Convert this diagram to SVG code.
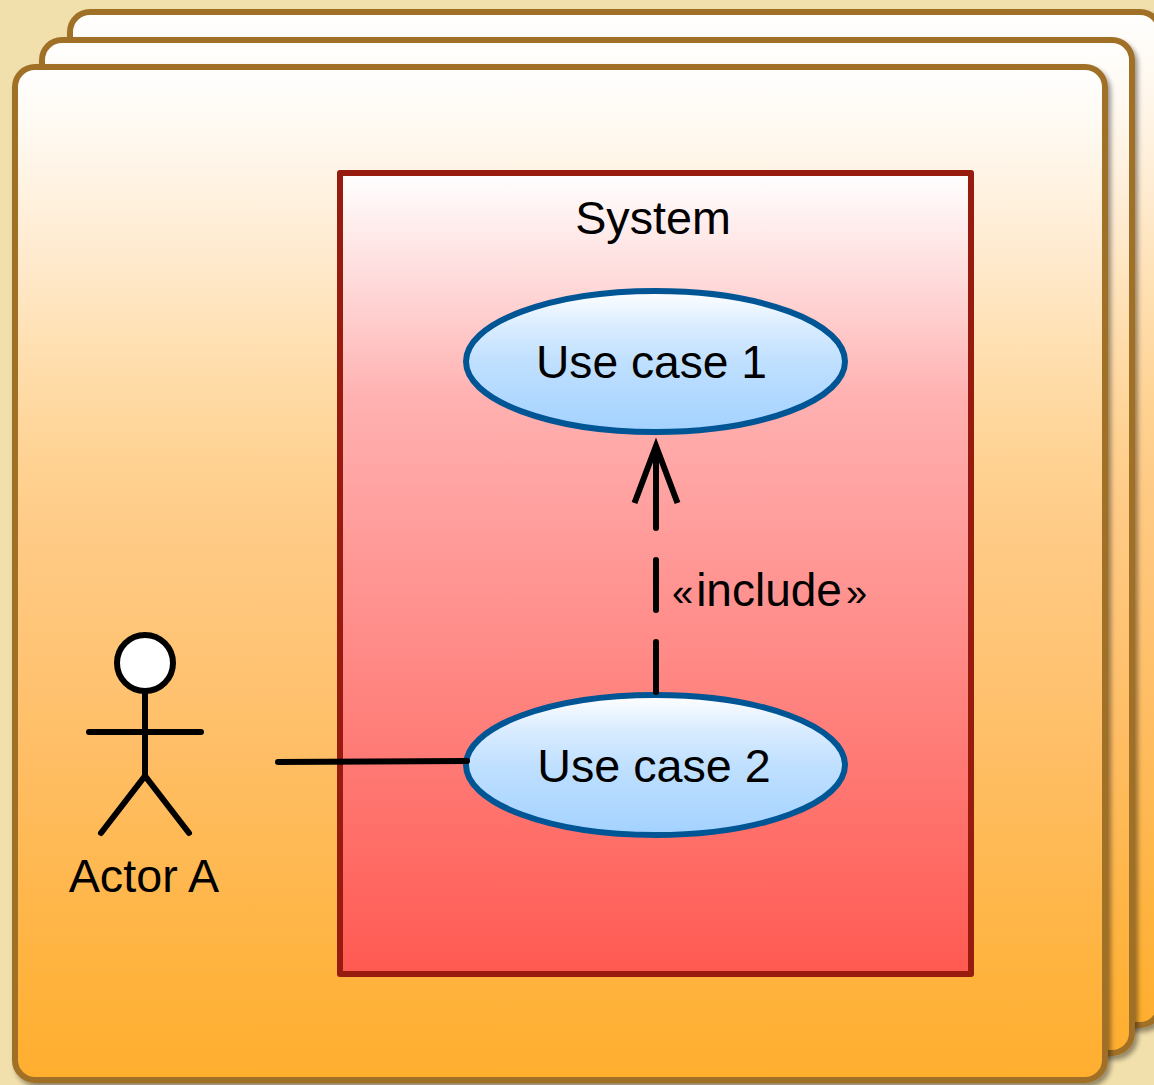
<svg xmlns="http://www.w3.org/2000/svg" width="1154" height="1085" viewBox="0 0 1154 1085">
<defs>
<linearGradient id="frameFill" x1="0" y1="0" x2="0" y2="1"><stop offset="0" stop-color="#ffffff"/><stop offset="0.08" stop-color="#fff7ec"/><stop offset="0.18" stop-color="#ffebd0"/><stop offset="0.28" stop-color="#ffdfb0"/><stop offset="0.39" stop-color="#ffd292"/><stop offset="0.47" stop-color="#ffca85"/><stop offset="0.68" stop-color="#ffbe65"/><stop offset="0.92" stop-color="#ffb23a"/><stop offset="1" stop-color="#ffae2e"/></linearGradient>
<linearGradient id="sysFill" x1="0" y1="0" x2="0" y2="1"><stop offset="0" stop-color="#ffffff"/><stop offset="0.16" stop-color="#ffd3d3"/><stop offset="0.28" stop-color="#ffb1b1"/><stop offset="0.46" stop-color="#ff9b99"/><stop offset="0.73" stop-color="#ff7a75"/><stop offset="1" stop-color="#ff5a52"/></linearGradient>
<linearGradient id="ucFill" x1="0" y1="0" x2="0" y2="1"><stop offset="0" stop-color="#ffffff"/><stop offset="0.25" stop-color="#d9ecff"/><stop offset="0.5" stop-color="#c0e0ff"/><stop offset="1" stop-color="#a3d2ff"/></linearGradient>
<filter id="shadow" x="-5%" y="-5%" width="110%" height="110%"><feDropShadow dx="3" dy="4" stdDeviation="2.5" flood-color="#000000" flood-opacity="0.4"/></filter>
</defs>
<style>
.frame{fill:url(#frameFill);stroke:#a07028;stroke-width:6;filter:url(#shadow)}
.uc{fill:url(#ucFill);stroke:#005594;stroke-width:6}
.ln{fill:none;stroke:#000000;stroke-width:6;stroke-linecap:round}
text{font-family:"Liberation Sans",Arial,sans-serif;font-size:46.7px;fill:#000000;text-anchor:middle}
</style>
<rect width="1154" height="1085" fill="#f2e0ac"/>
<g id="frame-3"><rect class="frame" x="70" y="12" width="1090" height="1013" rx="20"/></g>
<g id="frame-2"><rect class="frame" x="42" y="40" width="1090" height="1013" rx="20"/></g>
<g id="frame-1"><rect class="frame" x="15" y="67" width="1090" height="1013" rx="20"/></g>
<g id="system"><rect x="340" y="173" width="631" height="801" fill="url(#sysFill)" stroke="#981b0f" stroke-width="6" stroke-linejoin="round"/><text x="653" y="234">System</text></g>
<g id="use-case-1"><ellipse class="uc" cx="655.5" cy="361.5" rx="189.5" ry="70.5"/><text x="651.5" y="378" style="font-size:46.2px">Use case 1</text></g>
<g id="use-case-2"><ellipse class="uc" cx="655.5" cy="765" rx="189.5" ry="70"/><text x="654" y="782">Use case 2</text></g>
<g id="connectors">
<path class="ln" d="M278 762L467 761"/>
<path class="ln" d="M656 692V642M656 610V560M656 528V455"/>
<path d="M634.5 503L656 446L677.5 503" fill="none" stroke="#000" stroke-width="6" stroke-miterlimit="10"/>
</g>
<g id="include-label"><text x="672" y="606" style="text-anchor:start;font-size:46px"><tspan font-size="38">«</tspan><tspan dx="3">include</tspan><tspan font-size="38" dx="4">»</tspan></text></g>
<g id="actor-a">
<path class="ln" d="M145 691V776M89 732H201M101 833L145 776L189 833"/>
<circle cx="145" cy="663" r="28" fill="#ffffff" stroke="#000" stroke-width="6"/>
<text x="144" y="892">Actor A</text>
</g>
</svg>
